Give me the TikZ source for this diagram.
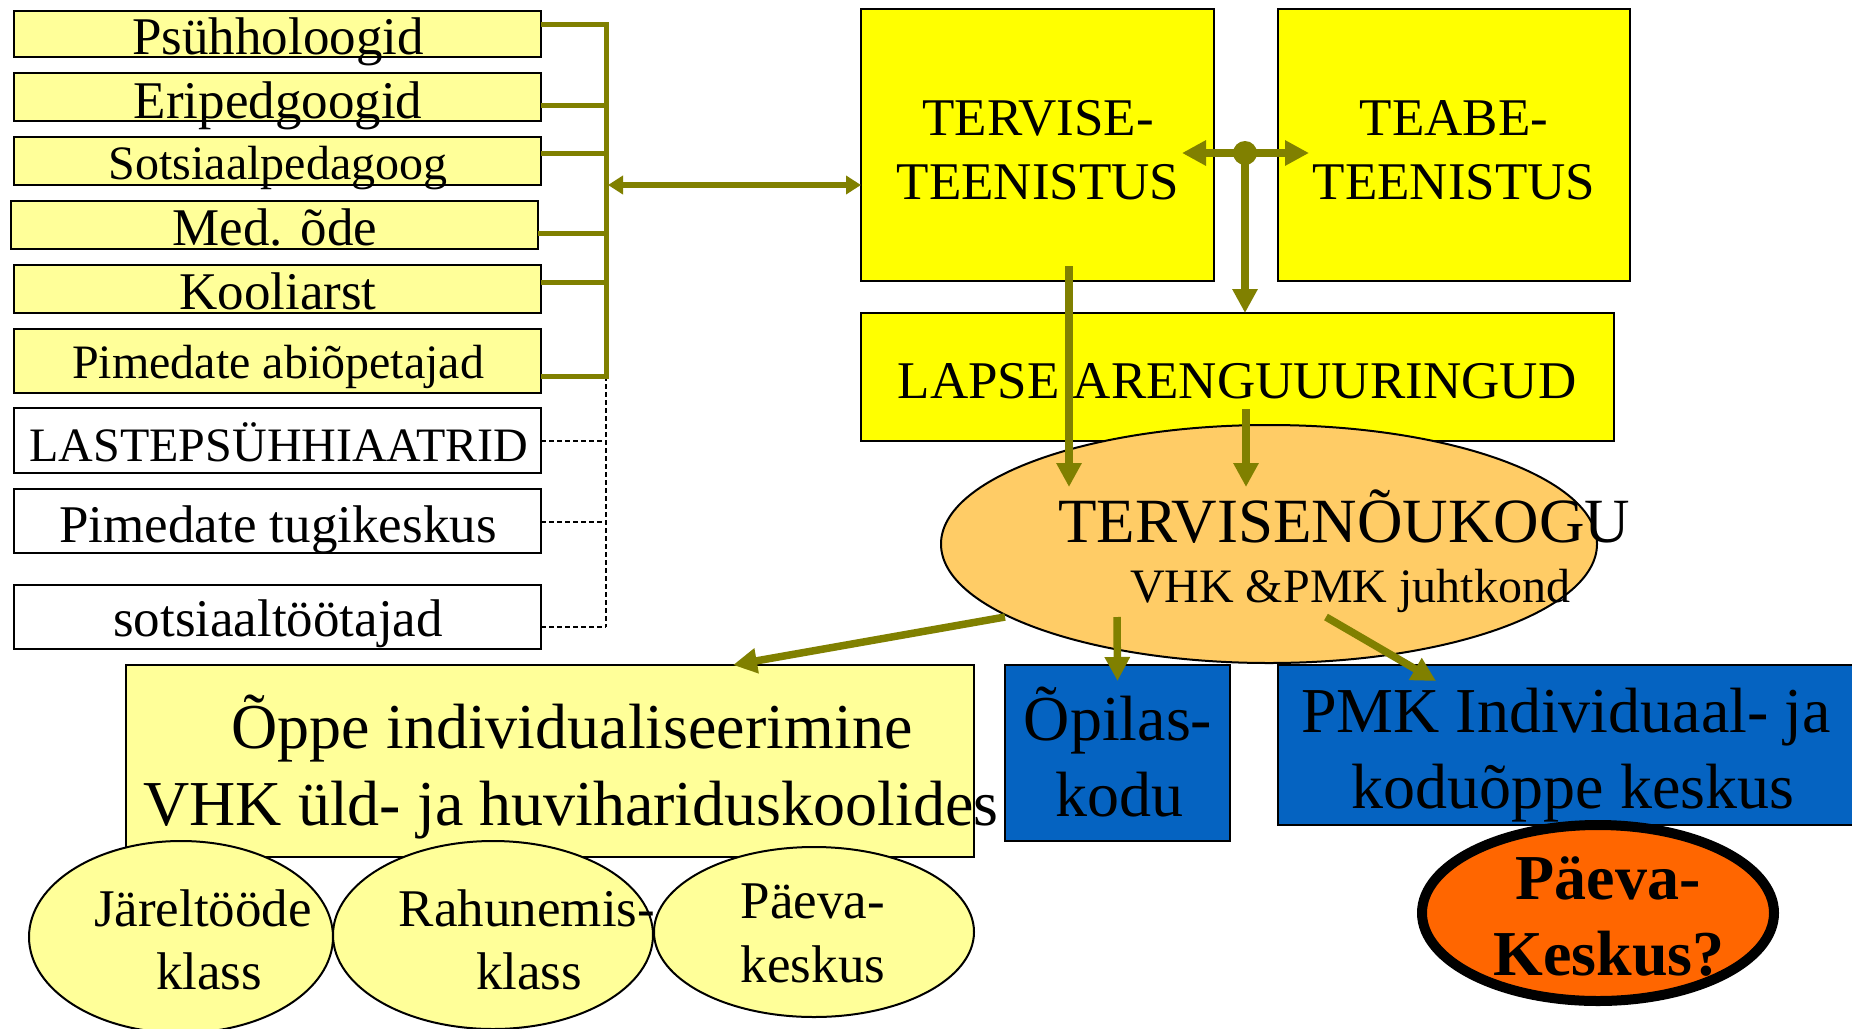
\documentclass[tikz,border=0pt]{standalone}
\usepackage{fontspec}
\setmainfont{Liberation Serif}
\usetikzlibrary{shapes.geometric,arrows.meta,calc}
\definecolor{lyel}{HTML}{FFFF99}
\definecolor{byel}{HTML}{FFFF00}
\definecolor{peach}{HTML}{FFCC66}
\definecolor{dblue}{HTML}{0563C1}
\definecolor{orng}{HTML}{FF6600}
\definecolor{olv}{HTML}{808000}
\newcommand\szA{\fontsize{53}{60}\selectfont}
\newcommand\szB{\fontsize{48}{56}\selectfont}
\newcommand\szC{\fontsize{64}{72}\selectfont}
\newcommand\szD{\fontsize{63}{70}\selectfont}
\begin{document}
\begin{tikzpicture}[x=1pt,y=-1pt,
  boxn/.style={draw=black, line width=2pt, rectangle, inner sep=0pt, outer sep=0pt},
  elln/.style={draw=black, line width=2pt, ellipse, inner sep=0pt, outer sep=0pt},
  txt/.style={inner sep=0pt, outer sep=0pt, anchor=base, text=black},
  bus/.style={draw=olv, line width=5pt},
  dbus/.style={draw=black, line width=1.5pt, dash pattern=on 5pt off 3pt},
  arr/.style={draw=olv, line width=7.5pt, -{Triangle[length=24pt,width=24pt]}},
  darr/.style={draw=olv, line width=7.5pt, {Triangle[length=24pt,width=24pt]}-{Triangle[length=24pt,width=24pt]}},
  sarr/.style={draw=olv, line width=6pt, {Triangle[length=15pt,width=18pt]}-{Triangle[length=15pt,width=18pt]}}
]
\useasboundingbox (0,0) rectangle (1852,1028);
\clip (0,0) rectangle (1852,1028);
\fill[white] (0,0) rectangle (1852,1028);

% left boxes
\node[boxn, fill=lyel, minimum width=527pt, minimum height=46pt] (psy) at (277.5,34) {};
\node[boxn, fill=lyel, minimum width=527pt, minimum height=48pt] (eri) at (277.5,97) {};
\node[boxn, fill=lyel, minimum width=527pt, minimum height=48pt] (sots) at (277.5,161) {};
\node[boxn, fill=lyel, minimum width=527pt, minimum height=48pt] (med) at (274.5,225) {};
\node[boxn, fill=lyel, minimum width=527pt, minimum height=48pt] (kool) at (277.5,289) {};
\node[boxn, fill=lyel, minimum width=527pt, minimum height=64pt] (abi) at (277.5,361) {};
\node[boxn, fill=white, minimum width=527pt, minimum height=65pt] (lasp) at (277.5,440.5) {};
\node[boxn, fill=white, minimum width=527pt, minimum height=64pt] (tugi) at (277.5,521) {};
\node[boxn, fill=white, minimum width=527pt, minimum height=64pt] (sotstoo) at (277.5,617) {};

\node[txt] (t-psy) at (278,54) {\szA Psühholoogid};
\node[txt] (t-eri) at (278,118) {\szA Eripedgoogid};
\node[txt] (t-sots) at (278,179) {\szB Sotsiaalpedagoog};
\node[txt] (t-med) at (275,245) {\szA Med. õde};
\node[txt] (t-kool) at (278,309) {\szA Kooliarst};
\node[txt] (t-abi) at (278,378) {\szB Pimedate abiõpetajad};
\node[txt] (t-lasp) at (279,461) {\szB LASTEPSÜHHIAATRID};
\node[txt] (t-tugi) at (278,542) {\szA Pimedate tugikeskus};
\node[txt] (t-sotstoo) at (278,636) {\szA sotsiaaltöötajad};

% bus
\coordinate (bustop) at (606,24);
\coordinate (busbot) at (606,376);
\coordinate (busend) at (606,627);
\coordinate (busmid) at (606,185);
\path ($(psy.east)+(0,-10)$) coordinate (c1);
\path ($(eri.east)+(0,8)$) coordinate (c2);
\path ($(sots.east)+(0,-8)$) coordinate (c3);
\path ($(med.east)+(0,8)$) coordinate (c4);
\path ($(kool.east)+(0,-7)$) coordinate (c5);
\path ($(abi.east)+(0,15)$) coordinate (c6);
\path ($(lasp.east)+(0,0.5)$) coordinate (d1);
\path ($(tugi.east)+(0,1)$) coordinate (d2);
\path ($(sotstoo.east)+(0,10)$) coordinate (d3);
\draw[dbus] (busbot) -- (busend);
\draw[dbus] (d1) -- (d1 -| busbot);
\draw[dbus] (d2) -- (d2 -| busbot);
\draw[dbus] (d3) -- (d3 -| busbot);
\draw[bus] (c1) -- (bustop) -- (busbot) -- (c6);
\draw[bus] (c2) -- (c2 -| bustop);
\draw[bus] (c3) -- (c3 -| bustop);
\draw[bus] (c4) -- (c4 -| bustop);
\draw[bus] (c5) -- (c5 -| bustop);

% top right boxes
\node[boxn, fill=byel, minimum width=353pt, minimum height=272pt] (terv) at (1037.5,145) {};
\node[boxn, fill=byel, minimum width=352pt, minimum height=272pt] (teabe) at (1454,145) {};
\node[txt] (t-terv1) at (1038,135) {\szA TERVISE-};
\node[txt] (t-terv2) at (1038,199) {\szA TEENISTUS};
\node[txt] (t-teabe1) at (1454,135) {\szA TEABE-};
\node[txt] (t-teabe2) at (1454,199) {\szA TEENISTUS};

\node[boxn, fill=byel, minimum width=753pt, minimum height=128pt] (lapse) at (1237.5,377) {};
\node[txt] (t-lapse) at (1237,398) {\szA LAPSE ARENGUUURINGUD};

% council ellipse
\node[elln, fill=peach, minimum width=656pt, minimum height=238pt] (nouk) at (1269,544) {};
\node[txt, anchor=base west] (t-nouk1) at (1058,542) {\szD TERVISENÕUKOGU};
\node[txt, anchor=base west] (t-nouk2) at (1130,602) {\szB VHK \&PMK juhtkond};

% lower left box
\node[boxn, fill=lyel, minimum width=848pt, minimum height=192pt] (oppe) at (550,761) {};
\node[txt] (t-oppe1) at (572,748) {\szC Õppe individualiseerimine};
\node[txt] (t-oppe2) at (571,825) {\szC VHK üld- ja huvihariduskoolides};

\node[elln, fill=lyel, minimum width=304pt, minimum height=192pt] (jarel) at (181,937) {};
\node[elln, fill=lyel, minimum width=320pt, minimum height=188pt] (rahu) at (493,935) {};
\node[elln, fill=lyel, minimum width=320pt, minimum height=170pt] (pkesk) at (814,932) {};
\node[txt] (t-jarel1) at (203,926) {\szA Järeltööde};
\node[txt] (t-jarel2) at (209,989) {\szA klass};
\node[txt] (t-rahu1) at (527,926) {\szA Rahunemis-};
\node[txt] (t-rahu2) at (529,989) {\szA klass};
\node[txt] (t-pkesk1) at (813,918) {\szA Päeva-};
\node[txt] (t-pkesk2) at (813,982) {\szA keskus};

% blue boxes
\node[boxn, fill=dblue, minimum width=225pt, minimum height=176pt] (opil) at (1117.5,753) {};
\node[txt] (t-opil1) at (1118,740) {\szC Õpilas-};
\node[txt] (t-opil2) at (1119,816) {\szC kodu};
\node[boxn, fill=dblue, minimum width=582pt, minimum height=160pt] (pmk) at (1569,745) {};
\node[txt] (t-pmk1) at (1566,732) {\szC PMK Individuaal- ja};
\node[txt] (t-pmk2) at (1573,808) {\szC koduõppe keskus};

% orange ellipse
\node[draw=black, line width=10pt, ellipse, inner sep=0pt, outer sep=0pt, fill=orng, minimum width=352pt, minimum height=176pt] (paeva) at (1598,913) {};
\node[txt] (t-paeva1) at (1608,899) {\szC\bfseries Päeva-};
\node[txt] (t-paeva2) at (1609,975) {\szC\bfseries Keskus?};

% arrows
\draw[sarr] ($(busmid)+(2,0)$) -- (terv.west |- busmid);
\coordinate (hub) at (1245,153);
\draw[darr] ($(terv.east|-hub)+(-32,0)$) -- ($(teabe.west|-hub)+(31,0)$);
\fill[olv] (hub) circle[radius=12pt];
\draw[arr] (hub) -- (hub |- lapse.north);
\draw[arr] ($(terv.south)+(31.5,-15)$) -- ($(nouk.center)+(-200,-57)$);
\draw[arr] ($(lapse.south)+(8.5,-32)$) -- ($(nouk.center)+(-23,-57)$);
\draw[arr] ($(nouk.center)+(-264,73)$) -- ($(oppe.north)+(183,0)$);
\draw[arr] ($(nouk.center)+(-152,73)$) -- ($(opil.north)+(0,16)$);
\draw[arr] ($(nouk.center)+(57,73)$) -- ($(pmk.north west)+(158,16)$);
\end{tikzpicture}
\end{document}
